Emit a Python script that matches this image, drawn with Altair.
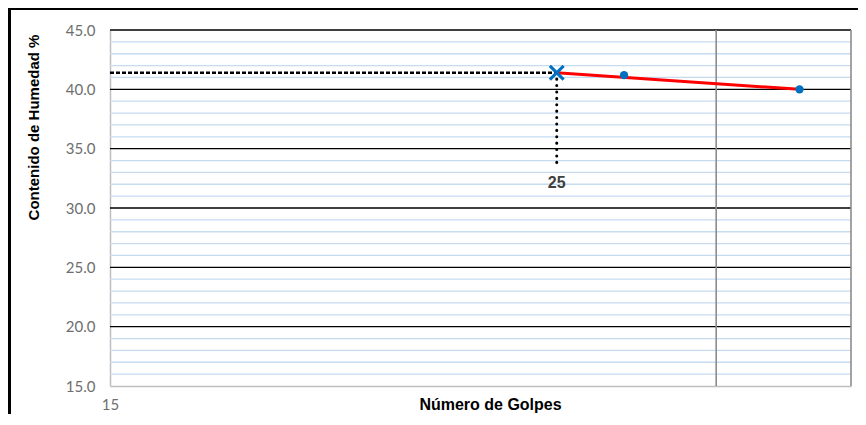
import altair as alt
import pandas as pd

# Data
golpes = [27, 33]
humedad = [41.2, 40.0]
lim_golpes = [25]
lim_humedad = [41.4]
trend_golpes = [25, 33]
trend_humedad = [41.4, 40.0]
guide_bottom = [33.8]
label_y = [32.1]
label_text = ["25"]
y_major = [20, 25, 30, 35, 40, 45]
y_minor = [16, 17, 18, 19, 21, 22, 23, 24, 26, 27, 28, 29, 31, 32, 33, 34,
           36, 37, 38, 39, 41, 42, 43, 44]
y_ticks = [15, 20, 25, 30, 35, 40, 45]
x_vlines = [30, 35]
x_min = 15
x_max = 35

xs = alt.Scale(type="log", domain=[x_min, x_max], nice=False, zero=False)
ys = alt.Scale(domain=[15, 45], nice=False, zero=False)

W, H = 741, 356

AX = alt.Axis(values=[15], format="d", grid=False, ticks=False,
              domainColor="#BFBFBF", domainWidth=1.5,
              labelFont="Lato", labelFontSize=15, labelColor="#6E6E6E",
              labelPadding=11, labelFlush=False,
              title="Número de Golpes", titleFont="Liberation Sans",
              titleFontSize=16, titleFontWeight="bold", titleColor="#000000",
              titleX=380, titleY=18, titleBaseline="middle", titleAlign="center")
AY = alt.Axis(values=y_ticks, format=".1f", grid=False, ticks=False,
              domainColor="#BFBFBF", domainWidth=1.5,
              labelFont="Lato", labelFontSize=15, labelColor="#6E6E6E",
              labelPadding=15,
              title="Contenido de Humedad %", titleFont="Liberation Sans",
              titleFontSize=15, titleFontWeight="bold", titleColor="#000000",
              titleX=-77, titleY=97, titleBaseline="middle", titleAlign="center",
              titleAngle=270)


def X(f):
    return alt.X(f, type="quantitative", scale=xs, axis=AX)


def Y(f):
    return alt.Y(f, type="quantitative", scale=ys, axis=AY)


minor = alt.Chart(pd.DataFrame({"y": y_minor})).mark_rule(
    color="#C5DCF0", strokeWidth=1.3).encode(y=Y("y"))

major = alt.Chart(pd.DataFrame({"y": y_major})).mark_rule(
    color="#000000", strokeWidth=1.4).encode(y=Y("y"))

vlines = alt.Chart(pd.DataFrame({"x": x_vlines})).mark_rule(
    color="#8C8C8C", strokeWidth=1.6).encode(x=X("x"))

dash_df = pd.DataFrame({"x": [x_min], "x2": lim_golpes, "y": lim_humedad})
dashed = alt.Chart(dash_df).mark_rule(
    color="#000000", strokeWidth=2.5, strokeDash=[4, 2]).encode(
    x=X("x"), x2="x2:Q", y=Y("y"))

dot_df = pd.DataFrame({"x": lim_golpes, "y": lim_humedad, "y2": guide_bottom})
dotted = alt.Chart(dot_df).mark_rule(
    color="#000000", strokeWidth=3, strokeDash=[0.1, 6.3], strokeCap="round").encode(
    x=X("x"), y=Y("y"), y2="y2:Q")

trend = alt.Chart(pd.DataFrame({"x": trend_golpes, "y": trend_humedad})).mark_line(
    color="#FF0000", strokeWidth=3).encode(x=X("x"), y=Y("y"))

pts = alt.Chart(pd.DataFrame({"x": golpes, "y": humedad})).mark_circle(
    color="#0070C0", size=70, opacity=1).encode(x=X("x"), y=Y("y"))

xmark = alt.Chart(pd.DataFrame({"x": lim_golpes, "y": lim_humedad})).mark_point(
    shape="M-1,-1L1,1M1,-1L-1,1", size=190, filled=False, color="#0070C0",
    strokeWidth=3, opacity=1).encode(x=X("x"), y=Y("y"))

lbl = alt.Chart(pd.DataFrame({"x": lim_golpes, "y": label_y, "t": label_text})).mark_text(
    font="Liberation Sans", fontSize=16, fontWeight="bold", color="#404040",
    baseline="middle", align="center").encode(x=X("x"), y=Y("y"), text="t:N")

frame_df = pd.DataFrame({"a": [0]})
frame_top = alt.Chart(frame_df).mark_rule(color="#000000", strokeWidth=3).encode(
    x=alt.value(-102), x2=alt.value(760), y=alt.value(-21.5))
frame_left = alt.Chart(frame_df).mark_rule(color="#000000", strokeWidth=3).encode(
    x=alt.value(-100.5), y=alt.value(-23), y2=alt.value(400))

chart = alt.layer(minor, major, vlines, dashed, dotted, trend, pts, xmark, lbl,
                  frame_top, frame_left).properties(
    width=W, height=H,
    autosize=alt.AutoSizeParams(type="none"),
    padding={"left": 102, "top": 22, "right": 7, "bottom": 28},
    background="#FFFFFF",
).configure_view(stroke=None)

chart.save("out.html", embed_options={"renderer": "svg", "actions": False})
